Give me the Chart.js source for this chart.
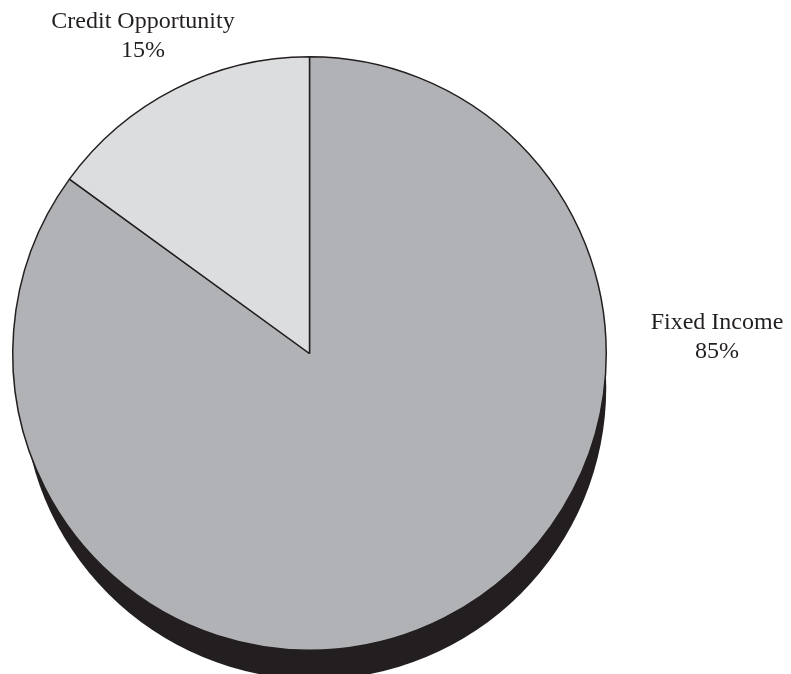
<!DOCTYPE html>
<html>
<head>
<meta charset="utf-8">
<style>
  html, body { margin: 0; padding: 0; background: #ffffff; }
  #wrap { width: 791px; height: 674px; }
</style>
<script src="https://cdn.jsdelivr.net/npm/chart.js@4/dist/chart.umd.min.js"></script>
</head>
<body>
<div id="wrap"><canvas id="pie" width="791" height="674"></canvas></div>
<script>
// Allocation data
const categories = ['Fixed Income', 'Credit Opportunity'];
const shares = [85, 15];
const valueLabels = ['85%', '15%'];

const sliceColors = ['#b1b2b5', '#dcdddf'];
const inkColor = '#231f20';
const labelFont = '24px "Liberation Serif", "Times New Roman", serif';

// Text anchors, given as offsets from the pie centre (first baseline, centred)
const labelOffsets = [
  { dx: 407.5, dy: -24.5 },
  { dx: -166.5, dy: -325.5 }
];
const lineGap = 28.5;

// Drop shadow drawn beneath the pie, offset down and slightly right
const pieShadow = {
  id: 'pieShadow',
  beforeDatasetsDraw(chart) {
    const arc = chart.getDatasetMeta(0).data[0];
    if (!arc) return;
    const { x, y, outerRadius } = arc.getProps(['x', 'y', 'outerRadius'], true);
    const ctx = chart.ctx;
    ctx.save();
    ctx.fillStyle = inkColor;
    ctx.beginPath();
    ctx.arc(x + 5, y + 34, outerRadius - 5, 0, Math.PI * 2);
    ctx.fill();
    ctx.restore();
  }
};

// Category name and percentage written beside each slice
const sliceLabels = {
  id: 'sliceLabels',
  afterDatasetsDraw(chart) {
    const meta = chart.getDatasetMeta(0);
    const ctx = chart.ctx;
    ctx.save();
    ctx.font = labelFont;
    ctx.fillStyle = inkColor;
    ctx.textAlign = 'center';
    ctx.textBaseline = 'alphabetic';
    meta.data.forEach((arc, i) => {
      const { x, y } = arc.getProps(['x', 'y'], true);
      const off = labelOffsets[i];
      ctx.fillText(categories[i], x + off.dx, y + off.dy);
      ctx.fillText(valueLabels[i], x + off.dx, y + off.dy + lineGap);
    });
    ctx.restore();
  }
};

new Chart(document.getElementById('pie'), {
  type: 'pie',
  data: {
    labels: categories,
    datasets: [{
      data: shares,
      backgroundColor: sliceColors,
      borderColor: inkColor,
      borderWidth: 1.5
    }]
  },
  options: {
    responsive: false,
    animation: false,
    layout: { padding: { left: 12, right: 184, top: 56, bottom: 23 } },
    plugins: {
      legend: { display: false },
      tooltip: { enabled: false }
    }
  },
  plugins: [pieShadow, sliceLabels]
});
</script>
</body>
</html>
